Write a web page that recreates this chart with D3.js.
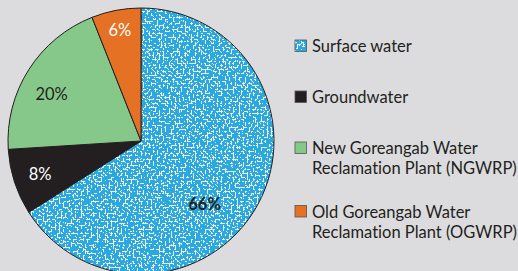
<!DOCTYPE html>
<html>
<head>
<meta charset="utf-8">
<script src="https://cdn.jsdelivr.net/npm/d3@7"></script>
<style>
  html, body { margin: 0; padding: 0; background: #dcdcde; }
  svg { display: block; }
  text { font-family: Lato, "Open Sans", sans-serif; font-variant-ligatures: none; }
</style>
</head>
<body>
<div id="chart"></div>
<script>

// DATA
const sources = ['Surface water', 'Groundwater', 'New Goreangab Water Reclamation Plant (NGWRP)', 'Old Goreangab Water Reclamation Plant (OGWRP)'];
const shares = [66, 8, 20, 6];
const legendLines = [
    ['Surface water'],
    ['Groundwater'],
    ['New Goreangab Water', 'Reclamation Plant (NGWRP)'],
    ['Old Goreangab Water', 'Reclamation Plant (OGWRP)']
];

const colors = ['url(#speckle)', '#231f20', '#86c88a', '#e57124'];
const labelColors = ['#231f20', '#ffffff', '#231f20', '#ffffff'];
// nudge labels off the plain centroid
const labelNudge = [[-24, 15], [0, 0], [-5, 7], [0, 0]];

const width = 518;
const height = 271;
const cx = 141, cy = 141, r = 133;

const svg = d3.select('#chart')
    .append('svg')
        .attr('width', width)
        .attr('height', height);

// speckled blue fill for surface water
const defs = svg.append('defs');
const pat = defs.append('pattern')
    .attr('id', 'speckle')
    .attr('patternUnits', 'userSpaceOnUse')
    .attr('width', 300)
    .attr('height', 300);
pat.append('rect')
    .attr('width', 300)
    .attr('height', 300)
    .attr('fill', '#29a9e0');
pat.append('rect')
    .attr('width', 300)
    .attr('height', 300)
    .attr('fill', '#fff')
    .attr('filter', 'url(#noise)');

const f = defs.append('filter')
    .attr('id', 'noise')
    .attr('x', 0).attr('y', 0)
    .attr('width', 1).attr('height', 1);
f.append('feTurbulence')
    .attr('type', 'fractalNoise')
    .attr('baseFrequency', 0.5)
    .attr('numOctaves', 1)
    .attr('seed', 3)
    .attr('result', 't');
f.append('feColorMatrix')
    .attr('in', 't')
    .attr('type', 'matrix')
    .attr('values', '0 0 0 0 0.84  0 0 0 0 0.85  0 0 0 0 0.87  3 0 0 0 -1.15')
    .attr('result', 'a');
f.append('feComponentTransfer')
    .attr('in', 'a')
    .append('feFuncA')
        .attr('type', 'discrete')
        .attr('tableValues', '0 1');

const pie = d3.pie().sort(null).value(d => d);
const arcs = pie(shares);

const arc = d3.arc().innerRadius(0).outerRadius(r);

const g = svg.append('g')
    .attr('transform', `translate(${cx},${cy})`);

g.selectAll('path')
    .data(arcs)
    .join('path')
        .attr('d', arc)
        .attr('fill', (d, i) => colors[i])
        .attr('stroke', '#231f20')
        .attr('stroke-width', 1);

const labelR = [100, 106, 100, 113];

g.selectAll('text.lab')
    .data(arcs)
    .join('text')
        .attr('class', 'lab')
        .attr('transform', (d, i) => {
            const a = (d.startAngle + d.endAngle) / 2;
            const x = Math.sin(a) * labelR[i] + labelNudge[i][0];
            const y = -Math.cos(a) * labelR[i] + labelNudge[i][1];
            return `translate(${x},${y})`;
        })
        .attr('text-anchor', 'middle')
        .attr('dy', '0.35em')
        .attr('font-size', 16.5)
        .attr('font-weight', (d, i) => i === 0 ? 700 : 400)
        .attr('fill', (d, i) => labelColors[i])
        .text(d => `${d.data}%`);

// LEGEND
// each entry takes a base step plus room for extra lines
let yPos = 40;
const legendTop = legendLines.map(lines => {
    const y = yPos;
    yPos += 51 + 12.5 * (lines.length - 1);
    return y;
});

const leg = svg.append('g')
    .selectAll('g')
    .data(sources)
    .join('g')
        .attr('transform', (d, i) => `translate(295,${legendTop[i]})`);

leg.append('rect')
    .attr('width', 11.5)
    .attr('height', 11.5)
    .attr('fill', (d, i) => colors[i])
    .attr('stroke', '#555')
    .attr('stroke-width', 0.8);

leg.append('text')
    .attr('y', 12)
    .attr('font-size', 16.5)
    .attr('fill', '#231f20')
    .selectAll('tspan')
    .data((d, i) => legendLines[i])
    .join('tspan')
        .attr('x', 17)
        .attr('dy', (d, j) => j === 0 ? 0 : 20)
        .text(d => d);

</script>
</body>
</html>
